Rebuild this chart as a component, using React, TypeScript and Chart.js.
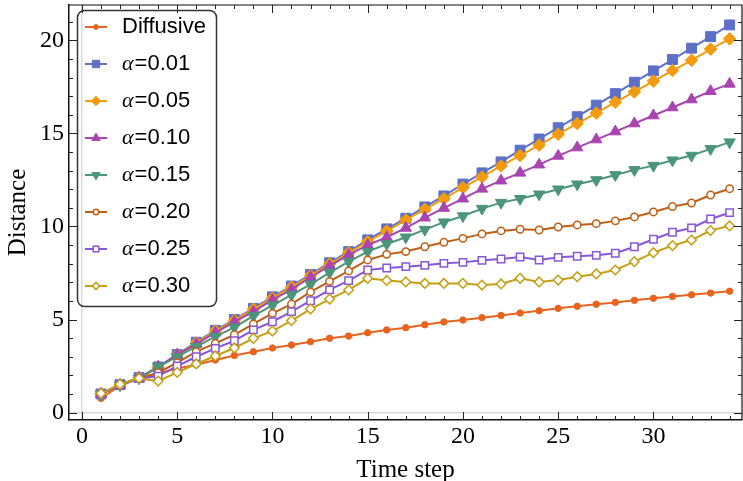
import React, { useEffect, useRef } from 'react';
import { Chart, registerables } from 'chart.js';
import { drawPoint } from 'chart.js/helpers';

Chart.register(...registerables);

const timeSteps = [1, 2, 3, 4, 5, 6, 7, 8, 9, 10, 11, 12, 13, 14, 15, 16, 17, 18, 19, 20, 21, 22, 23, 24, 25, 26, 27, 28, 29, 30, 31, 32, 33, 34];
const xTickValues = [0, 5, 10, 15, 20, 25, 30];
const yTickValues = [0, 5, 10, 15, 20];

const seriesLabels = ['Diffusive', 'α=0.01', 'α=0.05', 'α=0.10', 'α=0.15', 'α=0.20', 'α=0.25', 'α=0.30'];

const diffusive = [0.76, 1.46, 1.84, 2.1, 2.37, 2.57, 2.82, 3.07, 3.27, 3.47, 3.63, 3.81, 3.99, 4.11, 4.29, 4.44, 4.56, 4.72, 4.87, 4.97, 5.1, 5.22, 5.35, 5.47, 5.6, 5.71, 5.82, 5.92, 6.03, 6.14, 6.24, 6.33, 6.42, 6.52];
const alpha001 = [1.0, 1.5, 1.88, 2.45, 3.12, 3.78, 4.42, 5.0, 5.6, 6.22, 6.8, 7.42, 8.05, 8.65, 9.28, 9.87, 10.44, 11.05, 11.64, 12.28, 12.88, 13.47, 14.1, 14.7, 15.31, 15.9, 16.52, 17.14, 17.75, 18.36, 18.97, 19.58, 20.2, 20.83];
const alpha005 = [1.0, 1.48, 1.87, 2.43, 3.1, 3.74, 4.38, 4.95, 5.55, 6.15, 6.74, 7.36, 7.98, 8.58, 9.18, 9.75, 10.35, 10.92, 11.49, 12.09, 12.66, 13.25, 13.81, 14.37, 14.96, 15.53, 16.09, 16.68, 17.23, 17.81, 18.38, 18.93, 19.53, 20.08];
const alpha010 = [1.0, 1.48, 1.86, 2.46, 3.11, 3.68, 4.29, 4.87, 5.42, 6.05, 6.62, 7.27, 7.88, 8.47, 9.0, 9.42, 9.92, 10.47, 10.99, 11.49, 12.02, 12.46, 12.88, 13.32, 13.79, 14.24, 14.67, 15.1, 15.53, 15.96, 16.39, 16.82, 17.27, 17.66];
const alpha015 = [1.0, 1.48, 1.84, 2.46, 3.0, 3.54, 4.08, 4.58, 5.19, 5.76, 6.32, 6.89, 7.52, 8.11, 8.65, 9.06, 9.42, 9.83, 10.23, 10.56, 10.96, 11.28, 11.49, 11.73, 12.0, 12.27, 12.5, 12.77, 13.04, 13.27, 13.56, 13.81, 14.17, 14.53];
const alpha020 = [1.0, 1.48, 1.84, 2.14, 2.68, 3.27, 3.72, 4.18, 4.76, 5.33, 5.83, 6.48, 7.05, 7.61, 8.2, 8.5, 8.65, 8.91, 9.15, 9.36, 9.6, 9.76, 9.85, 9.81, 9.97, 10.08, 10.15, 10.3, 10.51, 10.78, 11.07, 11.26, 11.69, 12.03];
const alpha025 = [1.0, 1.48, 1.82, 1.96, 2.5, 3.0, 3.45, 3.86, 4.44, 4.88, 5.42, 6.01, 6.59, 7.09, 7.66, 7.77, 7.84, 7.91, 8.02, 8.07, 8.18, 8.25, 8.36, 8.2, 8.34, 8.4, 8.45, 8.56, 8.91, 9.31, 9.69, 9.92, 10.4, 10.74];
const alpha030 = [1.03, 1.52, 1.84, 1.69, 2.16, 2.61, 3.04, 3.47, 3.99, 4.38, 4.94, 5.56, 6.1, 6.59, 7.21, 7.1, 7.02, 6.94, 6.94, 6.94, 6.85, 6.91, 7.21, 7.02, 7.12, 7.3, 7.45, 7.66, 8.11, 8.59, 8.97, 9.27, 9.78, 10.03];

const seriesValues = [diffusive, alpha001, alpha005, alpha010, alpha015, alpha020, alpha025, alpha030];

const seriesStyles = [
  { color: '#E8641E', pointStyle: 'circle', radius: 3.2, rotation: 0, open: false },
  { color: '#5C70C8', pointStyle: 'rect', radius: 7, rotation: 0, open: false },
  { color: '#F39B0E', pointStyle: 'rectRot', radius: 6.3, rotation: 0, open: false },
  { color: '#A845B1', pointStyle: 'triangle', radius: 6.5, rotation: 0, open: false },
  { color: '#4B957A', pointStyle: 'triangle', radius: 6.5, rotation: 180, open: false },
  { color: '#BE5F16', pointStyle: 'circle', radius: 3.7, rotation: 0, open: true },
  { color: '#8757D8', pointStyle: 'rect', radius: 5.2, rotation: 0, open: true },
  { color: '#C59F14', pointStyle: 'rectRot', radius: 4.8, rotation: 0, open: true },
];

const frameTicks = {
  id: 'frameTicks',
  afterDraw(chart: any) {
    const { ctx, chartArea: a, scales } = chart;
    const x = scales.x;
    const y = scales.y;
    ctx.save();
    ctx.strokeStyle = '#111';
    ctx.lineWidth = 1.2;
    ctx.beginPath();
    ctx.moveTo(a.left, a.top);
    ctx.lineTo(a.right, a.top);
    ctx.lineTo(a.right, a.bottom);
    ctx.stroke();
    ctx.lineWidth = 1;
    ctx.strokeStyle = '#222';
    ctx.beginPath();
    for (let v = Math.ceil(x.min); v <= x.max; v++) {
      const px = Math.round(x.getPixelForValue(v)) + 0.5;
      const len = v % 5 === 0 ? 8 : 4;
      ctx.moveTo(px, a.bottom);
      ctx.lineTo(px, a.bottom - len);
      ctx.moveTo(px, a.top);
      ctx.lineTo(px, a.top + len);
    }
    for (let v = Math.ceil(y.min); v <= y.max; v++) {
      const py = Math.round(y.getPixelForValue(v)) + 0.5;
      const len = v % 5 === 0 ? 8 : 4;
      ctx.moveTo(a.left, py);
      ctx.lineTo(a.left + len, py);
      ctx.moveTo(a.right, py);
      ctx.lineTo(a.right - len, py);
    }
    ctx.stroke();
    ctx.restore();
  },
};

const legendBox = {
  id: 'legendBox',
  afterDraw(chart: any) {
    const ctx = chart.ctx;
    const bx = 77, by = 10, bw = 139, bh = 296;
    ctx.save();
    ctx.beginPath();
    (ctx as any).roundRect(bx + 0.5, by + 0.5, bw, bh, 7);
    ctx.strokeStyle = '#333';
    ctx.lineWidth = 1.5;
    ctx.stroke();
    chart.data.datasets.forEach((ds: any, i: number) => {
      const st = seriesStyles[i];
      const cy = 27 + i * 37;
      ctx.strokeStyle = ds.borderColor;
      ctx.lineWidth = 2;
      ctx.beginPath();
      ctx.moveTo(85, cy);
      ctx.lineTo(107, cy);
      ctx.stroke();
      ctx.fillStyle = st.open ? '#fff' : st.color;
      ctx.strokeStyle = st.color;
      ctx.lineWidth = st.open ? 1.5 : 1;
      drawPoint(ctx, { pointStyle: st.pointStyle, radius: st.radius * 0.75, rotation: st.rotation, borderWidth: st.open ? 1.5 : 1 } as any, 96, cy);
      ctx.fillStyle = '#000';
      ctx.textBaseline = 'middle';
      ctx.textAlign = 'left';
      const label: string = ds.label;
      let tx = 122;
      if (label.startsWith('α')) {
        ctx.font = 'italic 22px "Liberation Serif"';
        ctx.fillText('α', tx, cy);
        tx += ctx.measureText('α').width + 1;
        ctx.font = '22px "Liberation Sans"';
        ctx.fillText(label.slice(1), tx, cy);
      } else {
        ctx.font = '22px "Liberation Sans"';
        ctx.fillText(label, tx, cy);
      }
    });
    ctx.restore();
  },
};

export default function App() {
  const canvasRef = useRef<HTMLCanvasElement | null>(null);

  useEffect(() => {
    document.body.style.margin = '0';
    const canvas = canvasRef.current;
    if (!canvas) return;
    const datasets = seriesValues.map((vals, i) => {
      const st = seriesStyles[i];
      return {
        label: seriesLabels[i],
        data: timeSteps.map((t, j) => ({ x: t, y: vals[j] })),
        borderColor: st.color,
        backgroundColor: st.color,
        borderWidth: 2,
        pointStyle: st.pointStyle,
        pointRadius: st.radius,
        pointRotation: st.rotation,
        pointBackgroundColor: st.open ? '#ffffff' : st.color,
        pointBorderColor: st.color,
        pointBorderWidth: st.open ? 1.5 : 1,
        fill: false,
        tension: 0,
        order: seriesValues.length - 1 - i,
      };
    });
    const chart = new Chart(canvas, {
      type: 'line',
      data: { datasets },
      options: {
        animation: false,
        responsive: false,
        devicePixelRatio: 1,
        layout: { autoPadding: false, padding: { top: 5, right: 1, left: 0, bottom: 0 } },
        plugins: { legend: { display: false }, tooltip: { enabled: false } },
        scales: {
          x: {
            type: 'linear',
            min: -0.68,
            max: 34.65,
            afterBuildTicks: (scale: any) => {
              scale.ticks = xTickValues.map((v) => ({ value: v }));
            },
            afterFit: (scale: any) => {
              scale.height = 61;
              scale.paddingLeft = 0;
              scale.paddingRight = 0;
            },
            ticks: {
              font: { family: '"Liberation Serif"', size: 24 },
              color: '#000',
              padding: 2,
              maxRotation: 0,
            },
            grid: {
              drawTicks: false,
              color: (c: any) => (c.tick && c.tick.value === 0 ? '#d9d9d9' : 'rgba(0,0,0,0)'),
              lineWidth: 1.5,
            },
            border: { display: true, color: '#111', width: 1.5 },
            title: {
              display: true,
              text: 'Time step',
              font: { family: '"Liberation Serif"', size: 25 },
              color: '#000',
              padding: { top: 0, bottom: -4 },
            },
          },
          y: {
            type: 'linear',
            min: -0.4,
            max: 21.9,
            afterBuildTicks: (scale: any) => {
              scale.ticks = yTickValues.map((v) => ({ value: v }));
            },
            afterFit: (scale: any) => {
              scale.width = 69;
              scale.paddingTop = 0;
              scale.paddingBottom = 0;
            },
            ticks: {
              font: { family: '"Liberation Serif"', size: 24 },
              color: '#000',
              padding: 5,
            },
            grid: {
              drawTicks: false,
              color: (c: any) => (c.tick && c.tick.value === 0 ? '#d9d9d9' : 'rgba(0,0,0,0)'),
              lineWidth: 1.5,
            },
            border: { display: true, color: '#111', width: 1.5 },
            title: {
              display: true,
              text: 'Distance',
              font: { family: '"Liberation Serif"', size: 25 },
              color: '#000',
              padding: { top: 3, bottom: 0 },
            },
          },
        },
      },
      plugins: [frameTicks, legendBox],
    } as any);
    return () => chart.destroy();
  }, []);

  return (
    <canvas ref={canvasRef} width={743} height={481} style={{ display: 'block', width: 743, height: 481 }} />
  );
}
